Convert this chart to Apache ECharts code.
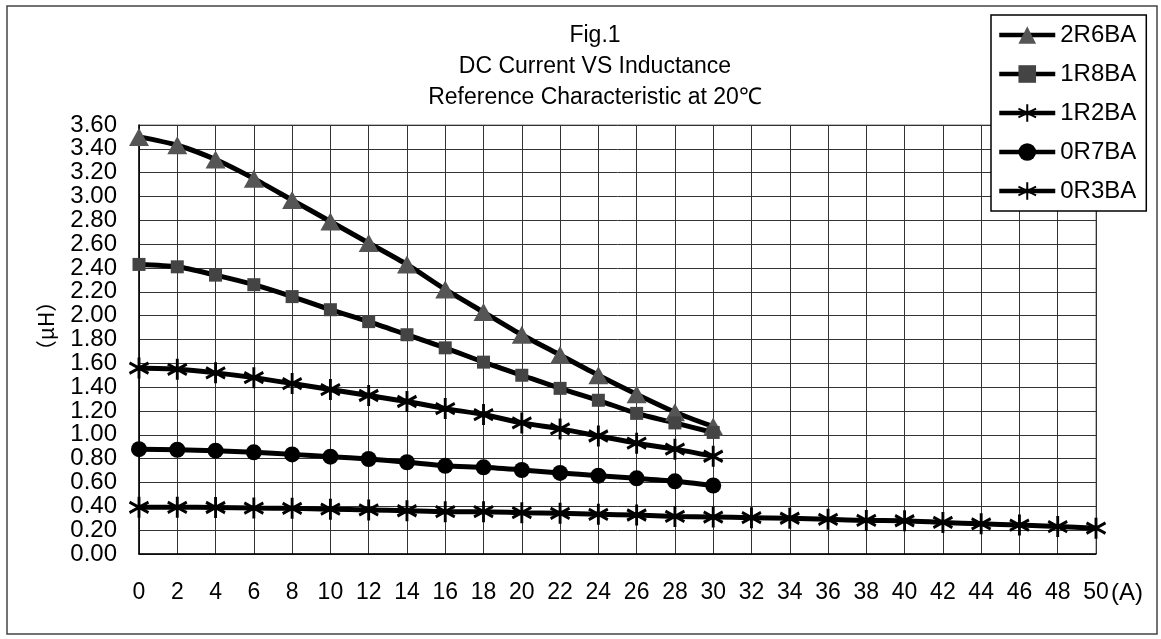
<!DOCTYPE html>
<html>
<head>
<meta charset="utf-8">
<script src="https://cdn.jsdelivr.net/npm/echarts@6/dist/echarts.min.js"></script>
<style>
html,body{margin:0;padding:0;background:#fff;}
#chart{width:1161px;height:639px;}
</style>
</head>
<body>
<div id="chart"></div>
<script>
// ---- data ----
var titleLines = ['Fig.1', 'DC Current VS Inductance', 'Reference Characteristic at 20\u2103'];
var xShort = [0,2,4,6,8,10,12,14,16,18,20,22,24,26,28,30];
var xLong = [0,2,4,6,8,10,12,14,16,18,20,22,24,26,28,30,32,34,36,38,40,42,44,46,48,50];
var seriesNames = ['2R6BA','1R8BA','1R2BA','0R7BA','0R3BA'];
var v2R6BA = [3.50,3.43,3.31,3.15,2.97,2.79,2.61,2.43,2.22,2.03,1.84,1.67,1.50,1.34,1.19,1.07];
var v1R8BA = [2.43,2.41,2.34,2.26,2.16,2.05,1.95,1.84,1.73,1.61,1.50,1.39,1.29,1.18,1.10,1.02];
var v1R2BA = [1.56,1.55,1.52,1.48,1.43,1.38,1.33,1.28,1.22,1.17,1.10,1.05,0.99,0.93,0.88,0.82];
var v0R7BA = [0.88,0.875,0.867,0.853,0.836,0.817,0.797,0.77,0.74,0.727,0.705,0.68,0.657,0.635,0.61,0.575];
var v0R3BA = [0.392,0.392,0.39,0.385,0.383,0.376,0.37,0.363,0.355,0.355,0.347,0.341,0.333,0.327,0.315,0.31,0.305,0.30,0.291,0.282,0.279,0.265,0.253,0.243,0.23,0.217];
var xUnit = '(A)';
var yUnit = '\uff08\u03bcH\uff09';

function pairs(xs, ys){ return xs.map(function(x,i){ return [x, ys[i]]; }); }

var FONT = "'Liberation Sans', Arial, sans-serif";
var asterisk = 'path://M0,-10L0,10M-8.66,-5L8.66,5M-8.66,5L8.66,-5';

function lineSeries(name, data, symbol, size, fill){
  return {
    name: name, type: 'line', data: data, smooth: 0.25,
    symbol: symbol, symbolSize: size, showSymbol: true,
    lineStyle: {color: '#000', width: 5},
    itemStyle: {color: fill, borderColor: fill, borderWidth: symbol === asterisk ? 3 : 0, opacity: 1},
    emphasis: {disabled: true},
    z: 3
  };
}

var chart = echarts.init(document.getElementById('chart'), null, {renderer: 'canvas'});
chart.setOption({
  animation: false,
  backgroundColor: '#fff',
  textStyle: {fontFamily: FONT},
  title: titleLines.map(function(t, i){
    return {text: t, left: 590, textAlign: 'center', top: 19 + i * 31,
      textStyle: {fontSize: 23, fontWeight: 'normal', color: '#000', fontFamily: FONT}};
  }),
  legend: {
    orient: 'vertical', left: 991, top: 15,
    data: seriesNames,
    backgroundColor: '#fff', borderColor: '#000', borderWidth: 1.5,
    padding: [8, 10, 8, 6],
    itemWidth: 56, itemHeight: 22, itemGap: 15,
    lineStyle: {width: 4.5, color: '#000'},
    textStyle: {fontSize: 24, color: '#000', fontFamily: FONT},
    selectedMode: false
  },
  grid: {left: 139, right: 65, top: 125, bottom: 85, show: true, borderColor: '#777', borderWidth: 1},
  xAxis: {
    type: 'value', min: 0, max: 50, interval: 2,
    axisLine: {show: true, lineStyle: {color: '#000', width: 1.5}},
    axisTick: {show: false},
    axisLabel: {fontSize: 23, color: '#000', margin: 27, fontFamily: FONT},
    splitLine: {show: true, lineStyle: {color: '#333', width: 1}}
  },
  yAxis: {
    type: 'value', min: 0, max: 3.6, interval: 0.2,
    axisLine: {show: true, lineStyle: {color: '#000', width: 1.5}},
    axisTick: {show: false},
    axisLabel: {fontSize: 24, color: '#000', margin: 22, lineHeight: 24, fontFamily: FONT,
      formatter: function(v){ return v.toFixed(2); }},
    splitLine: {show: true, lineStyle: {color: '#333', width: 1}}
  },
  graphic: [
    {type: 'rect', shape: {x: 7, y: 6, width: 1150, height: 628},
      style: {fill: 'none', stroke: '#444', lineWidth: 1.5}, z: -10, silent: true},
    {type: 'text', left: 1111, top: 581,
      style: {text: xUnit, fill: '#000', font: '24px ' + FONT}},
    {type: 'text', x: 46, y: 326, rotation: Math.PI / 2,
      style: {text: yUnit, fill: '#000', font: "21px 'Noto Sans CJK JP', " + FONT,
        align: 'center', verticalAlign: 'middle'}}
  ],
  series: [
    lineSeries(seriesNames[0], pairs(xShort, v2R6BA), 'triangle', [20, 18], '#555'),
    lineSeries(seriesNames[1], pairs(xShort, v1R8BA), 'rect', 13, '#444'),
    lineSeries(seriesNames[2], pairs(xShort, v1R2BA), asterisk, [19, 21], '#000'),
    lineSeries(seriesNames[3], pairs(xShort, v0R7BA), 'circle', 16, '#000'),
    lineSeries(seriesNames[4], pairs(xLong, v0R3BA), asterisk, [19, 21], '#000')
  ]
});
</script>
</body>
</html>
